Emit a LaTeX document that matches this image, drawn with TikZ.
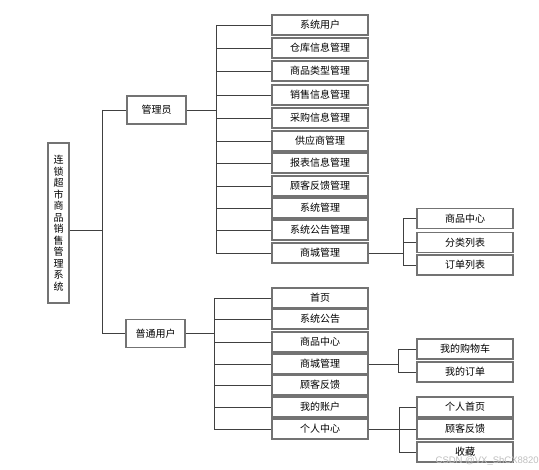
\documentclass[tikz,border=0pt]{standalone}
\usepackage{fontspec}
\newfontfamily\cjk{Noto Sans CJK SC}
\newfontfamily\wm{Liberation Sans}
\begin{document}
\begin{tikzpicture}[x=1pt,y=-1pt,
  every node/.style={inner sep=0pt},
  box/.style={draw=black!55,line width=1.1pt,fill=white,minimum width=96pt,minimum height=20pt,font=\cjk\fontsize{10}{12}\selectfont},
  mid/.style={box,minimum width=59pt,minimum height=28pt},
  conn/.style={draw=black!75,line width=0.8pt}]
\useasboundingbox (0,0) rectangle (539,470);
% root
\node[box,minimum width=21pt,minimum height=160pt,align=center,font=\cjk\fontsize{10}{11.5}\selectfont] (root) at (58.5,223)
 {连\\锁\\超\\市\\商\\品\\销\\售\\管\\理\\系\\统};
\node[mid] (admin) at (156.5,110) {管理员};
\node[mid] (user) at (155.5,333.5) {普通用户};
% admin children
\node[box] (a1) at (320,25) {系统用户};
\node[box] (a2) at (320,48) {仓库信息管理};
\node[box] (a3) at (320,71) {商品类型管理};
\node[box] (a4) at (320,95) {销售信息管理};
\node[box] (a5) at (320,118) {采购信息管理};
\node[box] (a6) at (320,141) {供应商管理};
\node[box] (a7) at (320,163) {报表信息管理};
\node[box] (a8) at (320,186) {顾客反馈管理};
\node[box] (a9) at (320,208) {系统管理};
\node[box] (a10) at (320,230) {系统公告管理};
\node[box] (a11) at (320,253) {商城管理};
\node[box] (b1) at (465,218.5) {商品中心};
\node[box] (b2) at (465,242.5) {分类列表};
\node[box] (b3) at (465,265) {订单列表};
% user children
\node[box] (u1) at (320,298) {首页};
\node[box] (u2) at (320,319) {系统公告};
\node[box] (u3) at (320,342) {商品中心};
\node[box] (u4) at (320,364) {商城管理};
\node[box] (u5) at (320,385) {顾客反馈};
\node[box] (u6) at (320,407) {我的账户};
\node[box] (u7) at (320,429) {个人中心};
\node[box] (c1) at (465,349) {我的购物车};
\node[box] (c2) at (465,372) {我的订单};
\node[box] (d1) at (465,407) {个人首页};
\node[box] (d2) at (465,429) {顾客反馈};
\node[box] (d3) at (465,452) {收藏};
% bus coordinates
\coordinate (r0) at (102,0);
\coordinate (ba) at (216,0);
\coordinate (bu) at (214,0);
\coordinate (bb) at (403,0);
\coordinate (bc) at (398,0);
\coordinate (bd) at (399,0);
% root connectors
\coordinate (rs) at ([yshift=-7pt]root.east);
\draw[conn] (rs) -- (r0 |- rs);
\draw[conn] (r0 |- admin.west) -- (r0 |- user.west);
\draw[conn] (r0 |- admin.west) -- (admin.west);
\draw[conn] (r0 |- user.west) -- (user.west);
% admin connectors
\draw[conn] (admin.east) -- (ba |- admin.east);
\draw[conn] (ba |- a1.west) -- (ba |- a11.west);
\foreach \n in {a1,a2,a3,a4,a5,a6,a7,a8,a9,a10,a11}
  \draw[conn] (ba |- \n.west) -- (\n.west);
\draw[conn] (a11.east) -- (bb |- a11.east);
\draw[conn] (bb |- b1.west) -- (bb |- b3.west);
\foreach \n in {b1,b2,b3}
  \draw[conn] (bb |- \n.west) -- (\n.west);
% user connectors
\draw[conn] (user.east) -- (bu |- user.east);
\draw[conn] (bu |- u1.west) -- (bu |- u7.west);
\foreach \n in {u1,u2,u3,u4,u5,u6,u7}
  \draw[conn] (bu |- \n.west) -- (\n.west);
\draw[conn] (u4.east) -- (bc |- u4.east);
\draw[conn] (bc |- c1.west) -- (bc |- c2.west);
\foreach \n in {c1,c2}
  \draw[conn] (bc |- \n.west) -- (\n.west);
\draw[conn] (u7.east) -- (bd |- u7.east);
\draw[conn] (bd |- d1.west) -- (bd |- d3.west);
\foreach \n in {d1,d2,d3}
  \draw[conn] (bd |- \n.west) -- (\n.west);
% watermark
\node[anchor=east,text=black!25,font=\wm\fontsize{9.5}{11}\selectfont] (wmk) at (539,461) {CSDN @VX\_ShCX8820};
\end{tikzpicture}
\end{document}
